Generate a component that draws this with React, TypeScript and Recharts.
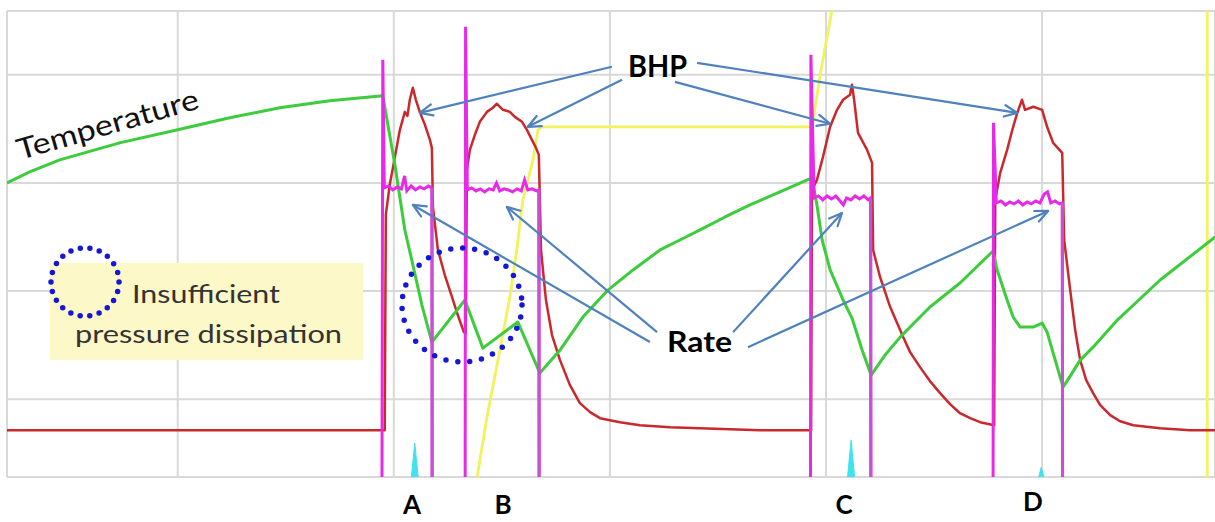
import React from "react";
import { ComposedChart, Line, Area, XAxis, YAxis, CartesianGrid, ReferenceLine } from "recharts";

type Pt = [number, number];

// time axis (arbitrary units, grid every 100) and level axis (grid every 100)
const timeTicks = [100, 200, 300, 400, 500];
const levelTicks = [100, 200, 300, 400];

const temperature: Pt[] = [
  [21, 300], [31.5, 310.2], [45.4, 321.3], [73.1, 337], [100, 349.1], [124.1, 360.2], [147.2, 369.5], [170.4, 375.9],
  [194.9, 380.6],
  [200.5, 316.7], [205.1, 256.5], [208.3, 228.7], [213.0, 187.0], [217.6, 152.8], [232.9, 191.7], [241.2, 147.2],
  [257.4, 171.3], [267.6, 124.1], [276.9, 145.4], [287.5, 175.9], [299.1, 200.9], [310.7, 219.5], [323.2, 238.0],
  [332.4, 247.2], [341.7, 256.5], [353.3, 268.5], [364.8, 279.6], [378.7, 291.7], [393.5, 304.6],
  [395.8, 279.6], [398.2, 247.2], [401.9, 219.5], [407.9, 191.7], [412.0, 175.0], [416.7, 145.4], [420.9, 122.2],
  [427.3, 140.7], [434.3, 157.4], [441.2, 171.3], [448.1, 185.2], [462.0, 207.4], [477.3, 237.0],
  [479.2, 219.5], [483.8, 191.7], [486.6, 175.9], [489.8, 166.7], [495.9, 166.7], [500, 170.4], [502.3, 162.0],
  [509.7, 111.1], [513.0, 121.3], [517.6, 136.1], [524.5, 150.0], [534.8, 173.1], [554.6, 210.2], [580.1, 250.0],
];

const bhp: Pt[] = [
  [21, 71.3], [194.9, 71.3], [195.8, 71.3], [196.3, 270.4], [198.1, 298.2], [200.5, 324.1], [202.8, 349.1],
  [205.1, 365.7], [206.3, 362], [207.4, 376.9], [208.8, 388.0], [210.2, 376.9], [212.0, 365.7], [214.4, 353.7],
  [216.7, 339.8], [217.6, 332.4], [218.1, 277.8], [220.4, 238.0], [223.6, 214.8], [226.9, 194.5], [229.6, 177.8],
  [232.4, 162.0], [233.3, 161.1], [233.8, 312.1], [235.2, 330.6], [237.5, 344.5], [239.8, 356.5], [243.1, 365.7],
  [245.8, 369.5], [247.7, 373.2], [250.5, 367.6], [253.7, 365.7], [256.0, 361.1], [259.3, 356.5], [261.6, 349.1],
  [263.9, 339.8], [265.8, 332.4], [267.1, 325.9], [268.1, 238.0], [270.4, 191.7], [273.2, 159.3], [276.9, 136.1],
  [281.5, 113.0], [286.1, 96.3], [290.8, 88.0], [295.4, 82.4], [304.6, 78.7], [313.9, 75.9], [327.8, 74.1],
  [341.7, 73.1], [369.5, 71.3], [393.1, 71.3],
  [393.5, 293.5], [395.8, 302.8], [398.6, 324.1], [401.9, 351.9], [405.1, 367.6], [407.9, 376.9], [411.1, 381.5],
  [412.0, 390.8], [413.0, 376.9], [414.8, 346.3], [419.0, 330.6], [421.3, 318.5], [421.8, 238.0], [425.0, 213.0],
  [429.7, 185.2], [435.7, 157.4], [438.9, 143.5], [443.5, 129.6], [448.1, 116.7], [452.8, 105.6], [457.4, 95.4],
  [462.0, 87.0], [466.7, 82.4], [471.3, 78.7], [477.8, 75.9],
  [478.3, 284.3], [480.6, 309.3], [483.8, 330.6], [486.6, 351.9], [488.5, 364.8], [490.7, 376.9], [492.1, 367.6],
  [495.9, 370.4], [500, 367.6], [502.3, 351.9], [505.1, 337.0], [509.3, 327.8], [510.2, 247.2], [513.0, 200.9],
  [515.3, 163.9], [517.6, 136.1], [520.4, 117.6], [523.6, 105.6], [526.9, 94.4], [531.5, 85.2], [536.1, 79.6],
  [542.2, 75.9], [554.6, 73.1], [568.6, 71.3], [580, 71.3],
];

const rate: Pt[] = [
  [21, 0], [194.5, 0], [194.9, 413.9], [195.6, 295.4], [197.5, 297.2], [199.5, 293.5], [201.5, 296.3], [203.5, 294.5],
  [205.0, 306.5], [206.0, 292.6], [208, 297.2], [210, 293.5], [212, 296.3], [214, 294.5], [216, 297.2], [217.6, 295.4],
  [217.8, 0], [233.0, 0],
  [233.2, 444.4], [234.0, 293.5], [236, 295.4], [238, 292.6], [240, 294.5], [242, 291.7], [244, 294.5], [246, 293.5],
  [247.5, 300], [249, 292.6], [251, 294.5], [253, 293.5], [255, 291.7], [257, 294.5], [259, 292.6], [260.5, 302.8],
  [262, 293.5], [264, 294.5], [266, 292.6], [267.1, 293.5], [267.3, 0], [392.8, 0],
  [393.0, 418.5], [394.5, 286.1], [396.5, 287.9], [398.5, 284.3], [400.5, 287.9], [402.5, 285.2], [404.5, 287.9],
  [406.5, 283.3], [408, 279.6], [409.5, 286.1], [411.5, 284.3], [413.5, 287.9], [415.5, 285.2], [417.5, 287.9],
  [419.5, 284.3], [420.6, 286.1], [420.8, 0], [477.3, 0],
  [477.5, 355.6], [478.8, 281.5], [481, 283.3], [483, 279.6], [485, 282.4], [487, 280.6], [489, 283.3], [491, 279.6],
  [493, 282.4], [495, 280.6], [497, 283.3], [499, 281.5], [501, 289.8], [502.5, 291.7], [504, 281.5], [506, 283.3],
  [508, 280.6], [509.3, 281.5], [509.5, 0], [580, 0],
];

// shut-in markers at the end of each stage (plateau level -> zero)
const shutInTimes = [217.7, 267.2, 420.7, 509.4];
const shutInLevels = [295.4, 293.5, 286.1, 281.5];

const yellowTrace: Pt[] = [
  [237.9, 20], [243.1, 83.3], [248.2, 136.1], [253.7, 194.5], [256.9, 238.0], [259.7, 284.3], [264.4, 321.3],
  [266.7, 349.1], [268.5, 351.9], [393.5, 351.9], [397.7, 404.6], [403.2, 464.8],
];

const cyanTrace: Pt[] = [
  [21, 0], [206.7, 0], [209.7, 59.3], [212.7, 0], [408.6, 0], [411.6, 62], [414.6, 0],
  [494.6, 0], [499.6, 37], [504.6, 0], [580, 0],
];

const yellowMarkerTime = 576.4;

const bhpArrows: { from: Pt; to: Pt }[] = [
  { from: [300.9, 407.4], to: [212.0, 364.8] },
  { from: [305.6, 395.4], to: [262.0, 351.9] },
  { from: [330.1, 393.5], to: [401.9, 354.7] },
  { from: [340.3, 411.1], to: [488.5, 364.8] },
];

const rateArrows: { from: Pt; to: Pt }[] = [
  { from: [318.5, 152.8], to: [208.8, 279.6] },
  { from: [321.8, 162.0], to: [252.3, 277.8] },
  { from: [357.0, 162.0], to: [407.4, 272.2] },
  { from: [363.9, 148.1], to: [502.8, 274.1] },
];

const stageLetters = [
  { label: "A", x: 412, y: 514 },
  { label: "B", x: 503, y: 514 },
  { label: "C", x: 844, y: 514 },
  { label: "D", x: 1033, y: 511 },
];

const rows = (pts: Pt[]) => pts.map(([t, v]) => ({ t, v }));

const shutInRows = shutInTimes.flatMap((t, i) => [
  { t, v: shutInLevels[i] },
  { t: t + 0.01, v: 0 },
  { t: t + 0.02, v: null },
]);

const ARROW = "#4f81bd";
const FONT = "Lato, 'Open Sans', sans-serif";

function ArrowShape(props: any) {
  const { x1, y1, x2, y2 } = props;
  if ([x1, y1, x2, y2].some((n) => typeof n !== "number" || isNaN(n))) return null;
  const ang = Math.atan2(y2 - y1, x2 - x1);
  const len = 14;
  const spread = 0.42;
  const ax = x2 - len * Math.cos(ang - spread);
  const ay = y2 - len * Math.sin(ang - spread);
  const bx = x2 - len * Math.cos(ang + spread);
  const by = y2 - len * Math.sin(ang + spread);
  return (
    <g>
      <line x1={x1} y1={y1} x2={x2} y2={y2} stroke={ARROW} strokeWidth={2.2} />
      <polyline points={`${ax},${ay} ${x2},${y2} ${bx},${by}`} fill="none" stroke={ARROW} strokeWidth={2.2} strokeLinejoin="round" strokeLinecap="round" />
    </g>
  );
}

export default function App() {
  const arrows = [...bhpArrows, ...rateArrows];
  return (
    <div style={{ position: "absolute", left: 0, top: 0, width: 1215, height: 522, background: "#fff", overflow: "hidden" }}>
      <ComposedChart width={1215} height={522} margin={{ top: 11, right: 0, bottom: 45, left: 7 }}>
        <CartesianGrid stroke="#d9d9d9" strokeWidth={2} />
        <XAxis type="number" dataKey="t" domain={[21, 580]} ticks={timeTicks} allowDataOverflow hide />
        <YAxis type="number" dataKey="v" domain={[28, 459]} ticks={levelTicks} allowDataOverflow hide />
        <ReferenceLine x={yellowMarkerTime} stroke="#f3f36a" strokeWidth={3} />
        <Line data={rows(yellowTrace)} dataKey="v" type="linear" stroke="#f2f25c" strokeWidth={2.8} dot={false} isAnimationActive={false} />
        <Line data={rows(bhp)} dataKey="v" type="linear" stroke="#c9282c" strokeWidth={2.5} strokeLinejoin="round" dot={false} isAnimationActive={false} />
        <Line data={rows(temperature)} dataKey="v" type="linear" stroke="#3ccc3c" strokeWidth={3} strokeLinejoin="round" dot={false} isAnimationActive={false} />
        <Line data={rows(rate)} dataKey="v" type="linear" stroke="#e82ae8" strokeWidth={3} dot={false} isAnimationActive={false} />
        <Line data={shutInRows} dataKey="v" type="linear" stroke="#c452d2" strokeWidth={3} dot={false} connectNulls={false} isAnimationActive={false} />
        <Area data={rows(cyanTrace)} dataKey="v" type="linear" stroke="#3ee3ef" fill="#3ee3ef" fillOpacity={1} strokeWidth={1} dot={false} isAnimationActive={false} />
        {arrows.map((a, i) => (
          <ReferenceLine
            key={i}
            segment={[{ x: a.from[0], y: a.from[1] }, { x: a.to[0], y: a.to[1] }]}
            ifOverflow="visible"
            shape={ArrowShape}
          />
        ))}
      </ComposedChart>
      <svg width={1215} height={522} style={{ position: "absolute", left: 0, top: 0, pointerEvents: "none" }}>
        <rect x={50} y={263} width={313} height={97} fill="#fdf8c8" />
        <circle cx={85} cy={282} r={34} fill="none" stroke="#1616d6" strokeWidth={5.5} strokeDasharray="0 9.7" strokeLinecap="round" />
        <text x={132} y={303} fontFamily={FONT} fontSize={25} fill="#333" textLength={148} lengthAdjust="spacingAndGlyphs">Insufficient</text>
        <text x={75} y={343} fontFamily={FONT} fontSize={25} fill="#333" textLength={267} lengthAdjust="spacingAndGlyphs">pressure dissipation</text>
        <ellipse cx={462} cy={305} rx={60} ry={57} fill="none" stroke="#1616d6" strokeWidth={5.5} strokeDasharray="0 12" strokeLinecap="round" />
        <text x={20} y={160} transform="rotate(-16 20 160)" fontFamily={FONT} fontSize={29} fill="#111" textLength={188} lengthAdjust="spacingAndGlyphs">Temperature</text>
        <text x={628} y={77} fontFamily={FONT} fontWeight="bold" fontSize={30} fill="#000" textLength={59} lengthAdjust="spacingAndGlyphs">BHP</text>
        <text x={667} y={352} fontFamily={FONT} fontWeight="bold" fontSize={28} fill="#000" textLength={65} lengthAdjust="spacingAndGlyphs">Rate</text>
        {stageLetters.map((s) => (
          <text key={s.label} x={s.x} y={s.y} textAnchor="middle" fontFamily={FONT} fontWeight="bold" fontSize={26} fill="#000">{s.label}</text>
        ))}
      </svg>
    </div>
  );
}
